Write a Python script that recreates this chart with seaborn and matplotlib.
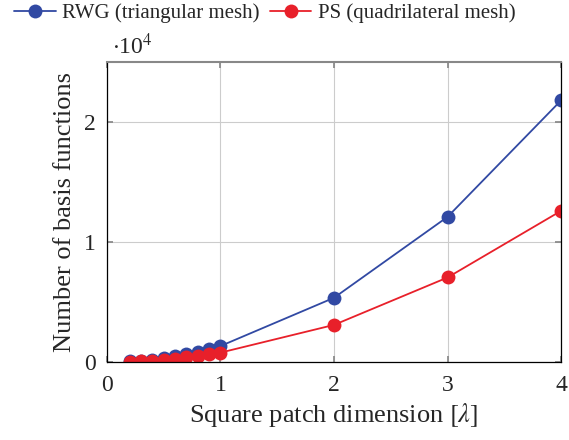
import matplotlib
matplotlib.use("Agg")
import matplotlib.pyplot as plt
import seaborn as sns
import pandas as pd

x_vals = [0.2, 0.3, 0.4, 0.5, 0.6, 0.7, 0.8, 0.9, 1.0, 2.0, 3.0, 4.0]
rwg = [54, 121, 216, 340, 490, 666, 870, 1100, 1340, 5360, 12100, 21800]
ps = [32, 70, 125, 195, 280, 385, 505, 640, 790, 3100, 7050, 12600]
series_names = ["RWG (triangular mesh)", "PS (quadrilateral mesh)"]
colors = ["#3149a3", "#e8202a"]

df = pd.DataFrame({
    "x": x_vals * 2,
    "y": rwg + ps,
    "series": [series_names[0]] * len(x_vals) + [series_names[1]] * len(x_vals),
})
df["y_scaled"] = df["y"] / 1e4

sns.set_theme(style="white")
plt.rcParams["font.family"] = ["Liberation Serif", "DejaVu Serif"]
plt.rcParams["mathtext.fontset"] = "stix"

fig = plt.figure(figsize=(5.69, 4.40), dpi=100)
ax = fig.add_axes([0.188, 0.177, 0.798, 0.682])

sns.lineplot(data=df, x="x", y="y_scaled", hue="series", palette=colors,
             marker="o", markersize=10, markeredgewidth=0, linewidth=1.3,
             ax=ax, legend=True)

ax.set_xlim(0, 4)
ax.set_ylim(0, 2.5)
ax.set_xticks([0, 1, 2, 3, 4])
ax.set_yticks([0, 1, 2])
ax.set_xticklabels(["0", "1", "2", "3", "4"])
ax.set_yticklabels(["0", "1", "2"])
ax.tick_params(axis="both", direction="in", labelsize=17, length=4, color="#888888",
               top=True, right=True, bottom=True, left=True)
ax.tick_params(axis="x", pad=9)
ax.tick_params(axis="y", pad=8)
ax.grid(True, color="#cccccc", linewidth=0.8)
for s in ["left", "right", "bottom"]:
    ax.spines[s].set_color("black")
    ax.spines[s].set_linewidth(0.9)
ax.spines["top"].set_color("#888888")
ax.spines["top"].set_linewidth(1.5)

ax.set_xlabel(r"Square patch dimension $[\lambda]$", fontsize=19, labelpad=4)
ax.set_ylabel("Number of basis functions", fontsize=19, labelpad=6)

ax.text(0.01, 1.01, r"$\cdot$10$^4$", transform=ax.transAxes, fontsize=17,
        ha="left", va="bottom")

leg = ax.legend(loc="lower left", bbox_to_anchor=(-0.205, 1.13), ncol=2, frameon=False,
                fontsize=15, handlelength=2.0, handletextpad=0.3, columnspacing=0.5,
                borderaxespad=0, borderpad=0, title=None)

fig.savefig("out.png", dpi=100)
